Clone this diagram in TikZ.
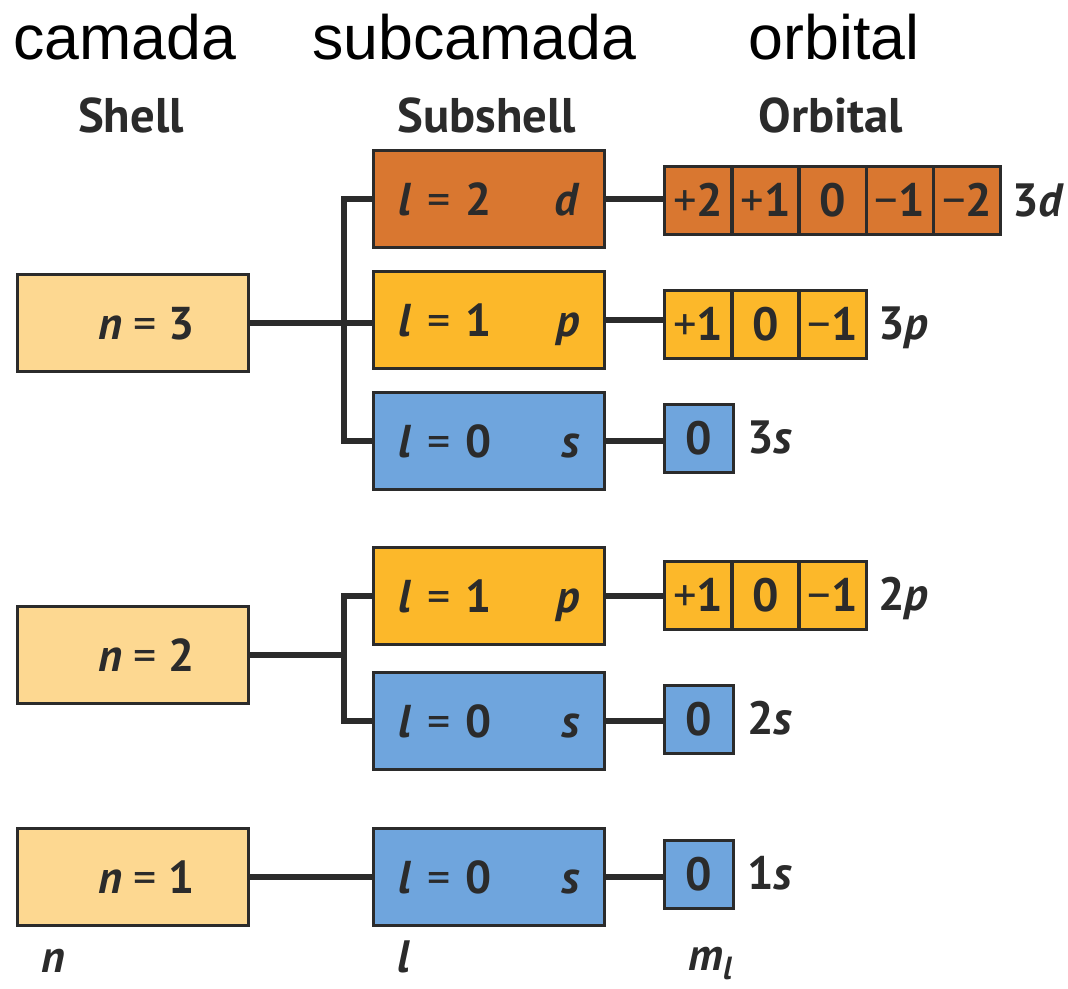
\documentclass[tikz,border=0pt]{standalone}
\usepackage{fontspec}
\setmainfont{PT Sans}
\newfontfamily\topfont{Liberation Sans}
\definecolor{ink}{HTML}{2B2B2B}
\definecolor{shellc}{HTML}{FDD891}
\definecolor{dc}{HTML}{D97730}
\definecolor{pc}{HTML}{FCB82A}
\definecolor{sc}{HTML}{6FA5DD}
\def\px{0.75pt}
\newcommand\Pl[1]{{\mdseries +}#1}
\newcommand\Mi[1]{{\mdseries −}#1}
\newcommand\qn[2]{\textit{#1}\ {\mdseries =}\ #2}
\tikzset{
  bx/.style={draw=ink, line width=2.5pt, minimum width=231*\px, minimum height=97*\px,
    inner sep=0pt, anchor=north west, text=ink,
    font=\fontsize{34.5}{34.5}\selectfont\bfseries, text height=24pt, text depth=0pt},
  shellbox/.style={bx, fill=shellc},
  subbox/.style={bx, text width=181*\px, align=left},
  cell/.style={draw=ink, line width=2.5pt, minimum width=67.2*\px, minimum height=68*\px,
    inner sep=0pt, anchor=north west, text=ink,
    font=\fontsize{35}{35}\selectfont\bfseries, text height=24pt, text depth=0pt},
  wire/.style={draw=ink, line width=4.2pt},
  lbl/.style={anchor=west, inner sep=0pt, text=ink,
    font=\fontsize{35}{35}\selectfont\bfseries, text height=24pt, text depth=0pt},
  hdr/.style={anchor=base, inner sep=0pt, text=ink, font=\fontsize{36.5}{36.5}\selectfont\bfseries},
  toplbl/.style={anchor=base, inner sep=0pt, text=black, font=\topfont\fontsize{47}{47}\selectfont},
  qlbl/.style={anchor=base west, inner sep=0pt, text=ink, font=\fontsize{34}{34}\selectfont\bfseries\itshape}
}
\begin{document}
\begin{tikzpicture}[x=0.75pt, y=-0.75pt]
\useasboundingbox (0,0) rectangle (1068,989);
% top labels
\node[toplbl] (tc) at (125,59) {camada};
\node[toplbl] (ts) at (474,59) {subcamada};
\node[toplbl] (to) at (834,59) {orbital};
% headers
\node[hdr] (hs) at (131,132) {Shell};
\node[hdr] (hss) at (487,132) {Subshell};
\node[hdr] (ho) at (831,132) {Orbital};
% shells
\node[shellbox] (n3) at (16,273) {\hspace*{20pt}\qn{n}{3}};
\node[shellbox] (n2) at (16,605) {\hspace*{20pt}\qn{n}{2}};
\node[shellbox] (n1) at (16,827) {\hspace*{20pt}\qn{n}{1}};
% subshells
\node[subbox, fill=dc] (sd3) at (372,149) {\qn{l}{2}\hfill\textit{d}};
\node[subbox, fill=pc] (sp3) at (372,270) {\qn{l}{1}\hfill\textit{p}};
\node[subbox, fill=sc] (ss3) at (372,391) {\qn{l}{0}\hfill\textit{s}};
\node[subbox, fill=pc] (sp2) at (372,546) {\qn{l}{1}\hfill\textit{p}};
\node[subbox, fill=sc] (ss2) at (372,671) {\qn{l}{0}\hfill\textit{s}};
\node[subbox, fill=sc] (ss1) at (372,827) {\qn{l}{0}\hfill\textit{s}};
% orbitals 3d
\node[cell, fill=dc] (d1) at (663,165) {\Pl{2}};
\node[cell, fill=dc] (d2) at (730.2,165) {\Pl{1}};
\node[cell, fill=dc] (d3) at (797.4,165) {0};
\node[cell, fill=dc] (d4) at (864.6,165) {\Mi{1}};
\node[cell, fill=dc] (d5) at (931.8,165) {\Mi{2}};
% 3p
\node[cell, fill=pc] (p31) at (663,289) {\Pl{1}};
\node[cell, fill=pc] (p32) at (730.2,289) {0};
\node[cell, fill=pc] (p33) at (797.4,289) {\Mi{1}};
% 3s
\node[cell, fill=sc, minimum width=69*\px] (s3) at (663,403) {0};
% 2p
\node[cell, fill=pc] (p21) at (663,560) {\Pl{1}};
\node[cell, fill=pc] (p22) at (730.2,560) {0};
\node[cell, fill=pc] (p23) at (797.4,560) {\Mi{1}};
% 2s
\node[cell, fill=sc, minimum width=69*\px] (s2) at (663,684) {0};
% 1s
\node[cell, fill=sc, minimum width=69*\px] (s1) at (663,839) {0};
% orbital labels
\node[lbl] (l3d) at (1012,200) {3\textit{d}};
\node[lbl] (l3p) at (878,323) {3\textit{p}};
\node[lbl] (l3s) at (747,437) {3\textit{s}};
\node[lbl] (l2p) at (878,594) {2\textit{p}};
\node[lbl] (l2s) at (747,718) {2\textit{s}};
\node[lbl] (l1s) at (747,873) {1\textit{s}};
% bottom labels
\node[qlbl] (qn) at (41,972) {n};
\node[qlbl] (ql) at (397,972) {l};
\node[qlbl] (qm) at (688,970) {m\raisebox{-0.22em}{\fontsize{24}{24}\selectfont l}};
% connectors
\coordinate (b3) at (344,0);
\coordinate (b2) at (344,0);
\draw[wire] (sd3.west) -- (sd3.west -| b3) -- (ss3.west -| b3) -- (ss3.west);
\draw[wire] (n3.east) -- (n3.east -| sp3.west);
\draw[wire] (sp2.west) -- (sp2.west -| b2) -- (ss2.west -| b2) -- (ss2.west);
\draw[wire] (n2.east) -- (n2.east -| b2);
\draw[wire] (n1.east) -- (n1.east -| ss1.west);
\draw[wire] (sd3.east) -- (sd3.east -| d1.west);
\draw[wire] (sp3.east) -- (sp3.east -| p31.west);
\draw[wire] (ss3.east) -- (ss3.east -| s3.west);
\draw[wire] (sp2.east) -- (sp2.east -| p21.west);
\draw[wire] (ss2.east) -- (ss2.east -| s2.west);
\draw[wire] (ss1.east) -- (ss1.east -| s1.west);
\end{tikzpicture}
\end{document}
